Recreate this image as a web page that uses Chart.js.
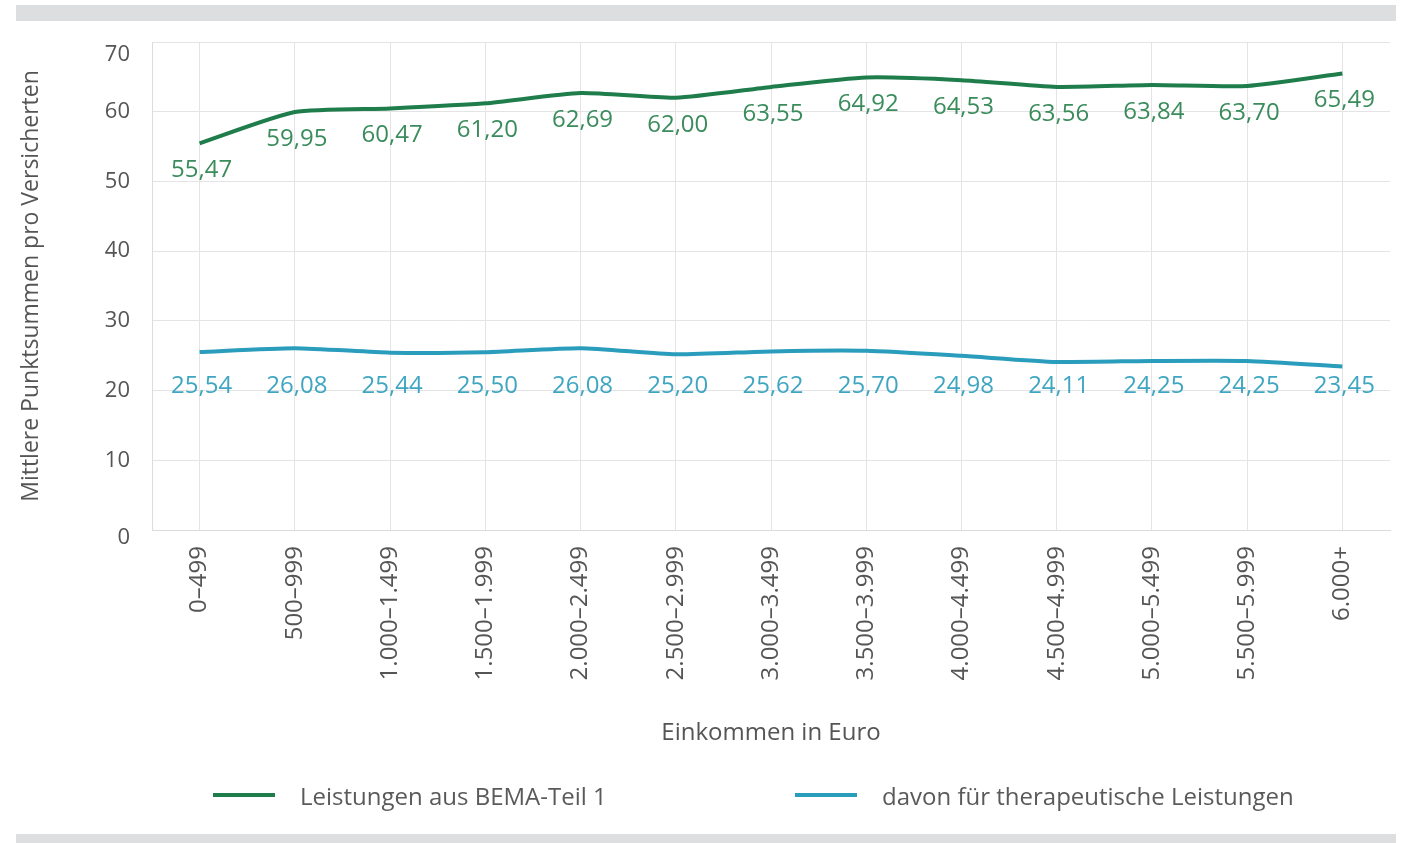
<!DOCTYPE html>
<html lang="de">
<head>
<meta charset="utf-8">
<script src="https://cdn.jsdelivr.net/npm/chart.js@4.4.1/dist/chart.umd.min.js"></script>
<style>
  html, body { margin: 0; padding: 0; background: #ffffff; }
  body { width: 1409px; height: 843px; position: relative; overflow: hidden; font-family: "Open Sans", sans-serif; }
  .bar { position: absolute; left: 16px; width: 1380px; background: #dddedf; }
  #wrap { position: absolute; left: 0; top: 0; width: 1409px; height: 843px; }
  #legend { position: absolute; top: 780px; left: 0; width: 1409px; height: 30px; }
  .item { position: absolute; top: 0; height: 30px; display: flex; align-items: center; color: #5a5a5a; font-size: 24px; }
  .sw { display: inline-block; width: 62px; height: 4px; margin-right: 25px; }
</style>
</head>
<body>
<div class="bar" style="top:5px;height:16px;"></div>
<div class="bar" style="top:834px;height:9px;"></div>
<div id="wrap"><canvas id="c" width="1409" height="843"></canvas></div>
<div id="legend"></div>
<script>
const categories = ["0–499","500–999","1.000–1.499","1.500–1.999","2.000–2.499","2.500–2.999","3.000–3.499","3.500–3.999","4.000–4.499","4.500–4.999","5.000–5.499","5.500–5.999","6.000+"];
const seriesNames = ["Leistungen aus BEMA-Teil 1", "davon für therapeutische Leistungen"];
const bemaValues = [55.47, 59.95, 60.47, 61.20, 62.69, 62.00, 63.55, 64.92, 64.53, 63.56, 63.84, 63.70, 65.49];
const therapieValues = [25.54, 26.08, 25.44, 25.50, 26.08, 25.20, 25.62, 25.70, 24.98, 24.11, 24.25, 24.25, 23.45];
const yTicks = [0, 10, 20, 30, 40, 50, 60, 70];
const lineColors = ["#1f7d4c", "#2a9cbc"];
const labelColors = ["#3b8c5c", "#3fa6c2"];
const textColor = "#555555";

const FONT = "'Open Sans', sans-serif";
const fmt = v => v.toFixed(2).replace(".", ",");

const valueLabels = {
  id: "valueLabels",
  afterDatasetsDraw(chart) {
    const ctx = chart.ctx;
    const yScale = chart.scales.y;
    ctx.save();
    ctx.font = "24px " + FONT;
    ctx.textAlign = "center";
    ctx.textBaseline = "middle";
    chart.data.datasets.forEach((ds, di) => {
      const meta = chart.getDatasetMeta(di);
      meta.data.forEach((pt, i) => {
        let y;
        if (di === 0) y = pt.y + 27;
        else y = yScale.getPixelForValue(20.6);
        ctx.fillStyle = labelColors[di];
        ctx.fillText(fmt(ds.data[i]), pt.x + 2, y);
      });
    });
    // edge y tick labels, nudged inward as in the reference
    ctx.font = "22px " + FONT;
    ctx.fillStyle = textColor;
    ctx.textAlign = "right";
    const ex = yScale.right - 22;
    ctx.fillText(String(yTicks[yTicks.length - 1]), ex, yScale.getPixelForValue(yTicks[yTicks.length - 1]) + 13);
    ctx.fillText(String(yTicks[0]), ex, yScale.getPixelForValue(yTicks[0]) + 8);
    ctx.restore();
  }
};

const chart = new Chart(document.getElementById("c"), {
  type: "line",
  data: {
    labels: categories,
    datasets: [
      { label: seriesNames[0], data: bemaValues, borderColor: lineColors[0], backgroundColor: lineColors[0], borderWidth: 4, pointRadius: 0, tension: 0.2, fill: false },
      { label: seriesNames[1], data: therapieValues, borderColor: lineColors[1], backgroundColor: lineColors[1], borderWidth: 4, pointRadius: 0, tension: 0.2, fill: false }
    ]
  },
  options: {
    responsive: false,
    animation: false,
    devicePixelRatio: 1,
    layout: { padding: { left: 18, right: 19, top: 42, bottom: 95 } },
    plugins: { legend: { display: false }, tooltip: { enabled: false } },
    scales: {
      x: {
        offset: true,
        grid: { color: "#e4e4e4", lineWidth: 1, drawTicks: false, offset: false },
        border: { color: "#dcdcdc" },
        ticks: { color: textColor, font: { family: FONT, size: 24 }, maxRotation: 90, minRotation: 90, padding: 16, autoSkip: false },
        title: { display: true, text: "Einkommen in Euro", color: textColor, font: { family: FONT, size: 24 }, padding: 0 },
        afterFit(scale) { scale.height = 218; }
      },
      y: {
        min: 0, max: 70,
        afterBuildTicks(scale) { scale.ticks = yTicks.map(v => ({ value: v })); },
        grid: { color: "#e4e4e4", lineWidth: 1, drawTicks: false },
        border: { color: "#dcdcdc" },
        ticks: {
          font: { family: FONT, size: 22 }, padding: 22,
          color: c => (c.tick && (c.tick.value === yTicks[0] || c.tick.value === yTicks[yTicks.length - 1])) ? "rgba(0,0,0,0)" : textColor
        },
        title: { display: true, text: "Mittlere Punktsummen pro Versicherten", color: textColor, font: { family: FONT, size: 23 }, padding: 0 },
        afterFit(scale) { scale.width = 134; }
      }
    }
  },
  plugins: [valueLabels]
});

// legend
const legend = document.getElementById("legend");
const legendPos = [213, 795];
seriesNames.forEach((name, i) => {
  const it = document.createElement("div");
  it.className = "item";
  it.style.left = legendPos[i] + "px";
  const sw = document.createElement("span");
  sw.className = "sw";
  sw.style.background = lineColors[i];
  const tx = document.createElement("span");
  tx.textContent = name;
  it.appendChild(sw); it.appendChild(tx);
  legend.appendChild(it);
});
</script>
</body>
</html>
